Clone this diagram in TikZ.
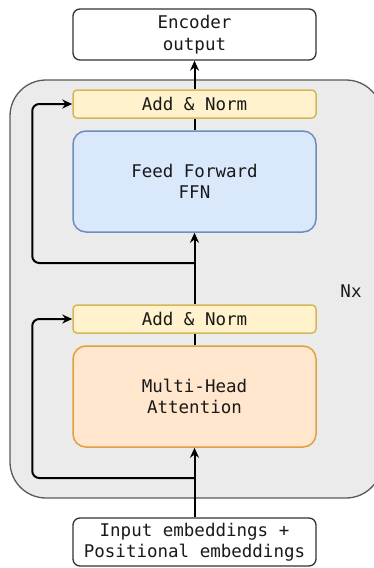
\documentclass[tikz,border=0pt]{standalone}
\usepackage{fontspec}
\setmonofont{DejaVu Sans Mono}
\usetikzlibrary{arrows.meta}
\definecolor{panelfill}{HTML}{EBEBEB}
\definecolor{panelline}{HTML}{5A5A5A}
\definecolor{normfill}{HTML}{FFF2CC}
\definecolor{normline}{HTML}{D6B656}
\definecolor{ffnfill}{HTML}{DAE8FC}
\definecolor{ffnline}{HTML}{6C8EBF}
\definecolor{attfill}{HTML}{FFE6CC}
\definecolor{attline}{HTML}{E0A040}
\tikzset{
  lbl/.style={font=\ttfamily\fontsize{17.5}{21.5}\selectfont, align=center, text=black!90},
  iobox/.style={lbl, draw=black!80, fill=white, line width=1.3pt, rounded corners=7pt,
    minimum width=243pt, inner sep=0pt},
  normbox/.style={lbl, draw=normline, fill=normfill, line width=1.5pt, rounded corners=4pt,
    minimum width=243pt, minimum height=28pt, inner sep=0pt},
  blockbox/.style={lbl, line width=1.5pt, rounded corners=13pt,
    minimum width=243pt, minimum height=101pt, inner sep=0pt},
  conn/.style={draw=black, line width=2pt},
  arr/.style={conn, -{Stealth[length=10pt,width=9pt]}},
}
\begin{document}
\begin{tikzpicture}[x=1pt,y=-1pt]
\useasboundingbox (0,0) rectangle (374,568);
% repeated encoder layer panel
\begin{scope}
  \clip (0,0) rectangle (374,568);
  \draw[fill=panelfill, draw=panelline, line width=1.3pt, rounded corners=36pt]
    (10,80) rectangle (382,498);
\end{scope}

\node[iobox, minimum height=51pt] (out) at (194.5,34.5) {Encoder\\output};
\node[normbox] (an2) at (194.5,104) {Add \& Norm};
\node[blockbox, draw=ffnline, fill=ffnfill] (ffn) at (194.5,181.5) {Feed Forward\\FFN};
\node[normbox] (an1) at (194.5,319) {Add \& Norm};
\node[blockbox, draw=attline, fill=attfill] (mha) at (194.5,396.5) {Multi-Head\\Attention};
\node[iobox, minimum height=48pt] (inp) at (194.5,542) {Input embeddings +\\Positional embeddings};
\node[lbl] (nx) at (351,291) {Nx};

% residual branch points
\coordinate (j1) at (194.5,478);
\coordinate (j2) at (194.5,263);

% main data path
\draw[arr] (inp.north) -- (mha.south);
\draw[conn] (mha.north) -- (an1.south);
\draw[arr] (an1.north) -- (ffn.south);
\draw[conn] (ffn.north) -- (an2.south);
\draw[arr] (an2.north) -- (out.south);

% residual connections
\draw[arr, rounded corners=7pt] (j1) -| ([xshift=-40pt]an1.west) -- (an1.west);
\draw[arr, rounded corners=7pt] (j2) -| ([xshift=-40pt]an2.west) -- (an2.west);
\end{tikzpicture}
\end{document}
